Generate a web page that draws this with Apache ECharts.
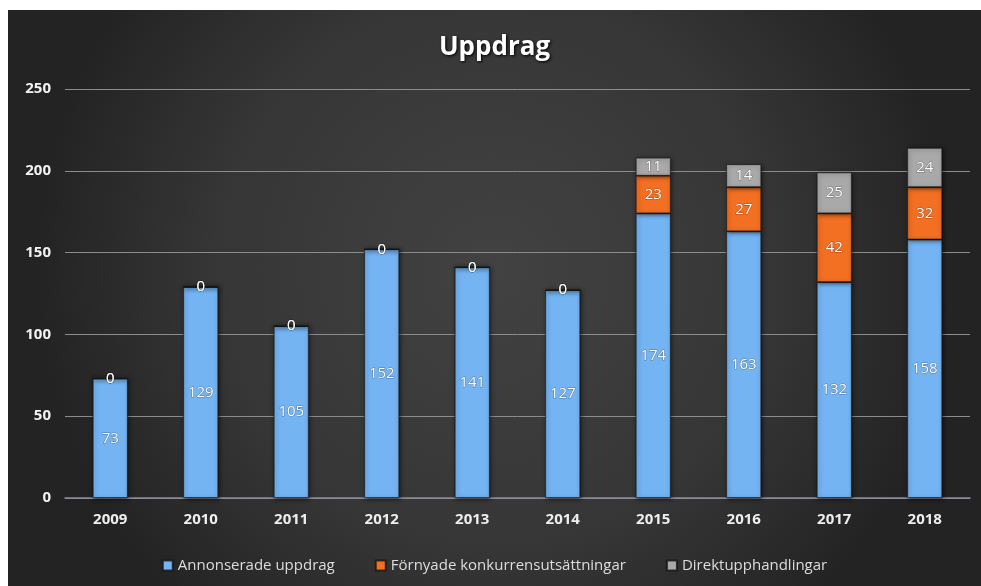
<!DOCTYPE html>
<html>
<head>
<meta charset="utf-8">
<script src="https://cdn.jsdelivr.net/npm/echarts@6/dist/echarts.min.js"></script>
<style>
  html, body { margin: 0; padding: 0; background: #fff; }
  #chart { position: absolute; left: 8px; top: 10px; width: 973px; height: 576px; }
</style>
</head>
<body>
<div id="chart"></div>
<script>
  // data
  let years = ['2009', '2010', '2011', '2012', '2013', '2014', '2015', '2016', '2017', '2018'];
  let annonserade = [73, 129, 105, 152, 141, 127, 174, 163, 132, 158];
  let fornyade = [0, 0, 0, 0, 0, 0, 23, 27, 42, 32];
  let direkt = [0, 0, 0, 0, 0, 0, 11, 14, 25, 24];
  let yTicks = [0, 50, 100, 150, 200, 250];

  let font = '"Open Sans", "Noto Sans", sans-serif';

  let chart = echarts.init(document.getElementById('chart'));

  function barSeries(name, data, color) {
    return {
      name: name,
      type: 'bar',
      stack: 'total',
      data: data,
      barWidth: 35,
      itemStyle: {
        color: color,
        borderColor: 'rgba(20,20,20,0.8)',
        borderWidth: 0.8,
        shadowColor: 'rgba(0,0,0,0.6)',
        shadowBlur: 4,
        shadowOffsetX: 1,
        shadowOffsetY: 1
      },
      label: {
        show: true,
        position: 'inside',
        color: '#ffffff',
        fontFamily: font,
        fontSize: 15,
        textBorderColor: 'rgba(0,0,0,0.35)',
        textBorderWidth: 1
      }
    };
  }

  let option = {
    backgroundColor: {
      type: 'radial',
      x: 0.5, y: 0.45, r: 0.8,
      colorStops: [
        {offset: 0, color: '#434242'},
        {offset: 0.6, color: '#373636'},
        {offset: 1, color: '#232323'}
      ]
    },
    title: {
      text: 'Uppdrag',
      left: 'center',
      top: 20,
      textStyle: {
        color: '#ffffff',
        fontFamily: font,
        fontSize: 26,
        fontWeight: 'bold',
        textShadowColor: '#000',
        textShadowBlur: 3,
        textShadowOffsetX: 1,
        textShadowOffsetY: 1
      }
    },
    legend: {
      bottom: 8,
      left: 'center',
      itemWidth: 10,
      itemHeight: 10,
      itemGap: 40,
      icon: 'rect',
      textStyle: {color: '#dddddd', fontFamily: font, fontSize: 15},
      data: ['Annonserade uppdrag', 'Förnyade konkurrensutsättningar', 'Direktupphandlingar']
    },
    grid: {left: 57, right: 11, top: 79, bottom: 88},
    xAxis: {
      type: 'category',
      data: years,
      axisLine: {lineStyle: {color: '#8a8a9a', width: 1.5}},
      axisTick: {show: false},
      axisLabel: {color: '#eeeeee', fontFamily: font, fontSize: 15, fontWeight: 'bold', margin: 14}
    },
    yAxis: {
      type: 'value',
      min: yTicks[0],
      max: yTicks[yTicks.length - 1],
      interval: 50,
      axisLine: {show: false},
      axisTick: {show: false},
      axisLabel: {color: '#f2f2f2', fontFamily: font, fontSize: 15, fontWeight: 'bold', margin: 14},
      splitLine: {lineStyle: {color: '#8c8c8c', width: 1}}
    },
    series: [
      barSeries('Annonserade uppdrag', annonserade, '#74b4f2'),
      barSeries('Förnyade konkurrensutsättningar', fornyade, '#f36f22'),
      barSeries('Direktupphandlingar', direkt, '#a9a9a9')
    ]
  };

  chart.setOption(option);
</script>
</body>
</html>
